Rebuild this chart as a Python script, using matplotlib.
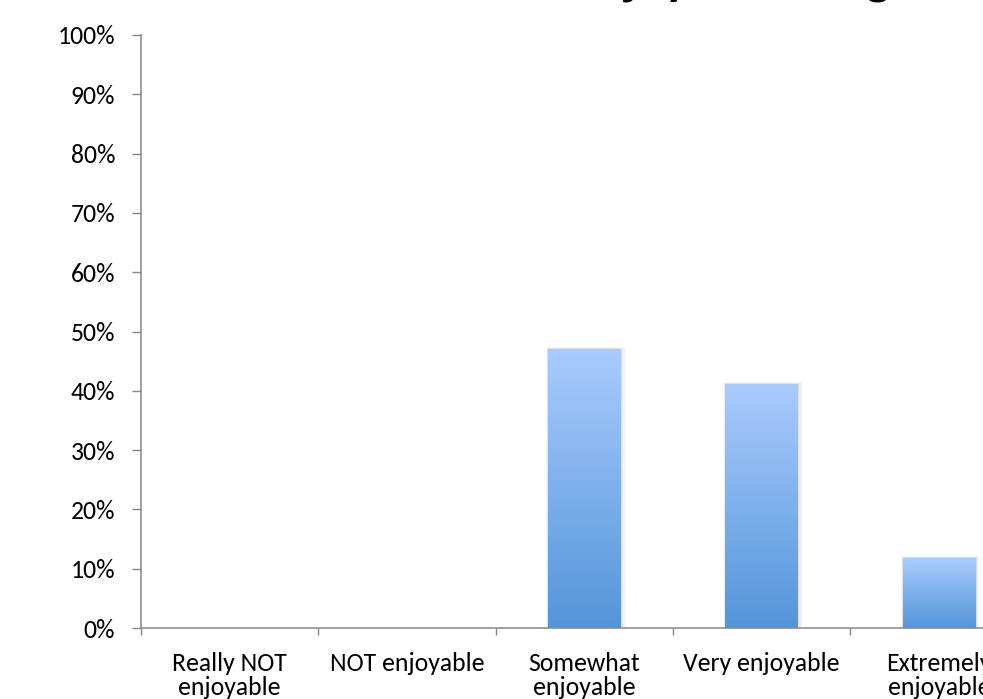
import numpy as np
import matplotlib
matplotlib.use("Agg")
import matplotlib.pyplot as plt
from matplotlib.patches import Rectangle
from matplotlib.colors import LinearSegmentedColormap

# data (share of respondents, %)
categories = ["Really NOT\nenjoyable", "NOT enjoyable", "Somewhat\nenjoyable",
              "Very enjoyable", "Extremely\nenjoyable"]
values = [0.0, 0.0, 47.1, 41.2, 11.8]
yticks = [0, 10, 20, 30, 40, 50, 60, 70, 80, 90, 100]
title = "Enjoyable Programming"

plt.rcParams['font.family'] = ['Carlito', 'DejaVu Sans']

fig = plt.figure(figsize=(9.83, 6.99), dpi=100)
ax = fig.add_axes([141/983, 1 - 628/699, 886.5/983, 593/699])

grey = "#868686"
cmap = LinearSegmentedColormap.from_list("bar", ["#5495DA", "#A9CCFE"])
grad = np.linspace(0, 1, 256).reshape(-1, 1)

x = np.arange(len(categories))
bw = 0.41
bars = ax.bar(x, values, width=bw, color="none", edgecolor="none", zorder=3)
for b, v in zip(bars, values):
    if v <= 0:
        continue
    x0 = b.get_x()
    # soft shadow
    for k, a in enumerate([0.045, 0.035, 0.025, 0.015]):
        d = 0.005 * (k + 1)
        ax.add_patch(Rectangle((x0 - d * 0.5, 0), bw + d * 2.0, v + d * 18,
                               color="black", alpha=a, lw=0, zorder=2))
    im = ax.imshow(grad, cmap=cmap, aspect="auto", origin="lower",
                   extent=[x0, x0 + bw, 0, v], zorder=3)
    im.set_clip_path(b)

ax.set_xlim(-0.5, len(categories) - 0.5)
ax.set_ylim(0, 100)

ax.set_yticks(yticks)
ax.set_yticklabels([f"{t}%" for t in yticks])
ax.set_xticks(np.arange(len(categories) + 1) - 0.5)
ax.set_xticklabels([])
ax.set_xticks(x, minor=True)
ax.set_xticklabels(categories, minor=True, linespacing=1.05)

ax.tick_params(axis="y", which="major", length=6.5, width=1, color=grey,
               pad=12, labelsize=18.5)
ax.tick_params(axis="x", which="major", length=5, width=1, color=grey)
ax.tick_params(axis="x", which="minor", length=0, pad=17, labelsize=18.5)

for s in ["top", "right"]:
    ax.spines[s].set_visible(False)
for s in ["left", "bottom"]:
    ax.spines[s].set_color(grey)
    ax.spines[s].set_linewidth(1.1)

fig.text(572/983, 1 + 7/699, title, fontsize=37, fontweight="bold",
         ha="left", va="baseline")

fig.savefig("out.png", dpi=100)
